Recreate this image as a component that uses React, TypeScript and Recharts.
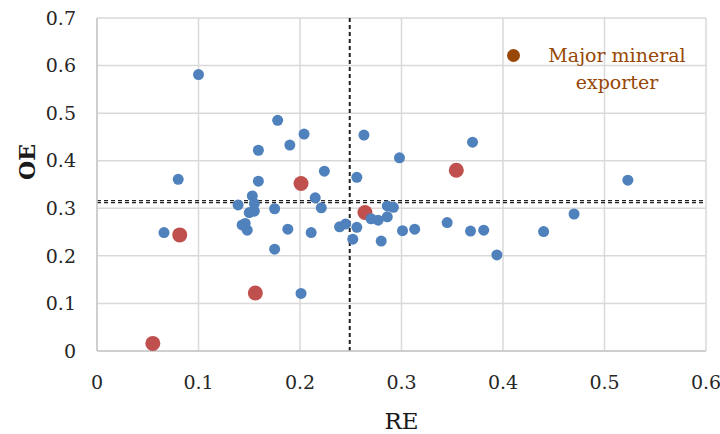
import { ScatterChart, Scatter, XAxis, YAxis, CartesianGrid, ReferenceLine, Legend } from 'recharts'

const FONT = '"DejaVu Serif", serif'
const BLUE = '#4F81BD'
const RED = '#C0504D'
const BROWN = '#974706'

const reTicks = [0, 0.1, 0.2, 0.3, 0.4, 0.5, 0.6]
const oeTicks = [0, 0.1, 0.2, 0.3, 0.4, 0.5, 0.6, 0.7]

// other countries
const otherRE = [
  0.1, 0.178, 0.204, 0.263, 0.19, 0.159, 0.37, 0.298, 0.224, 0.08, 0.159, 0.256,
  0.523, 0.153, 0.215, 0.139, 0.155, 0.175, 0.221, 0.15, 0.155, 0.286, 0.292,
  0.27, 0.277, 0.286, 0.47, 0.345, 0.143, 0.146, 0.148, 0.066, 0.188, 0.211,
  0.239, 0.245, 0.256, 0.252, 0.28, 0.301, 0.313, 0.368, 0.381, 0.44, 0.394,
  0.175, 0.201,
]
const otherOE = [
  0.581, 0.485, 0.456, 0.454, 0.433, 0.422, 0.439, 0.406, 0.378, 0.361, 0.357, 0.365,
  0.359, 0.326, 0.322, 0.307, 0.31, 0.299, 0.301, 0.291, 0.294, 0.305, 0.302,
  0.278, 0.275, 0.282, 0.288, 0.27, 0.265, 0.268, 0.254, 0.249, 0.256, 0.249,
  0.261, 0.267, 0.26, 0.235, 0.231, 0.253, 0.256, 0.252, 0.254, 0.251, 0.202,
  0.214, 0.121,
]

// major mineral exporters
const exporterRE = [0.055, 0.0815, 0.156, 0.201, 0.264, 0.354]
const exporterOE = [0.016, 0.244, 0.122, 0.352, 0.291, 0.38]

// averages (dotted lines)
const meanRE = 0.249
const meanOE = 0.314

const others = otherRE.map((re, i) => ({ re, oe: otherOE[i] }))
const exporters = exporterRE.map((re, i) => ({ re, oe: exporterOE[i] }))

const BlueDot = (p: any) => <circle cx={p.cx} cy={p.cy} r={5.5} fill={BLUE} />
const RedDot = (p: any) => <circle cx={p.cx} cy={p.cy} r={7.5} fill={RED} />

const OELabel = () => (
  <text
    x={35}
    y={162}
    transform="rotate(-90, 35, 162)"
    textAnchor="middle"
    fontFamily={FONT}
    fontSize={22}
    fontWeight="bold"
    fill="#1a1a1a"
  >
    OE
  </text>
)

const ExporterLegend = () => (
  <div style={{ position: 'relative', width: 204, height: 60, fontFamily: FONT, fontSize: 19, color: BROWN }}>
    <span
      style={{
        position: 'absolute',
        left: 7,
        top: 7,
        width: 13,
        height: 13,
        borderRadius: '50%',
        background: BROWN,
      }}
    />
    <div style={{ position: 'absolute', left: 30, top: 0, width: 174, textAlign: 'center', lineHeight: '27px' }}>
      Major mineral
      <br />
      exporter
    </div>
  </div>
)

export default function App() {
  return (
    <div style={{ width: 720, height: 434, position: 'relative' }}>
      <style>{'body{margin:0}'}</style>
      <ScatterChart width={720} height={434} margin={{ top: 18, right: 14, bottom: 0, left: 0 }}>
        <CartesianGrid stroke="#d9d9d9" strokeWidth={1.5} />
        <XAxis
          type="number"
          dataKey="re"
          domain={[0, 0.6]}
          ticks={reTicks}
          height={83}
          stroke="#c8c8c8"
          strokeWidth={1.5}
          tickLine={false}
          tickSize={0}
          tickMargin={25}
          tick={{ fill: '#262626', fontSize: 19, fontFamily: FONT }}
          label={{
            value: 'RE',
            position: 'insideBottom',
            offset: 5,
            style: { fontFamily: FONT, fontSize: 23, fill: '#1a1a1a' },
          }}
        />
        <YAxis
          type="number"
          dataKey="oe"
          domain={[0, 0.7]}
          ticks={oeTicks}
          width={97}
          stroke="#c8c8c8"
          strokeWidth={1.5}
          tickLine={false}
          tickSize={0}
          tickMargin={21}
          tick={{ fill: '#262626', fontSize: 19, fontFamily: FONT }}
          label={<OELabel />}
        />
        <Legend
          layout="vertical"
          align="center"
          verticalAlign="middle"
          content={<ExporterLegend />}
          wrapperStyle={{ top: 42, left: 500, width: 204 }}
        />
        <Scatter name="Major mineral exporter" data={exporters} shape={RedDot} isAnimationActive={false} />
        <Scatter name="Other" data={others} shape={BlueDot} isAnimationActive={false} legendType="none" />
        <ReferenceLine x={meanRE} stroke="#222" strokeWidth={2} strokeDasharray="4 3" />
        <ReferenceLine y={meanOE + 0.0022} stroke="#222" strokeWidth={1.2} strokeDasharray="4 3" />
        <ReferenceLine y={meanOE - 0.0022} stroke="#222" strokeWidth={1.2} strokeDasharray="4 3" />
      </ScatterChart>
    </div>
  )
}
